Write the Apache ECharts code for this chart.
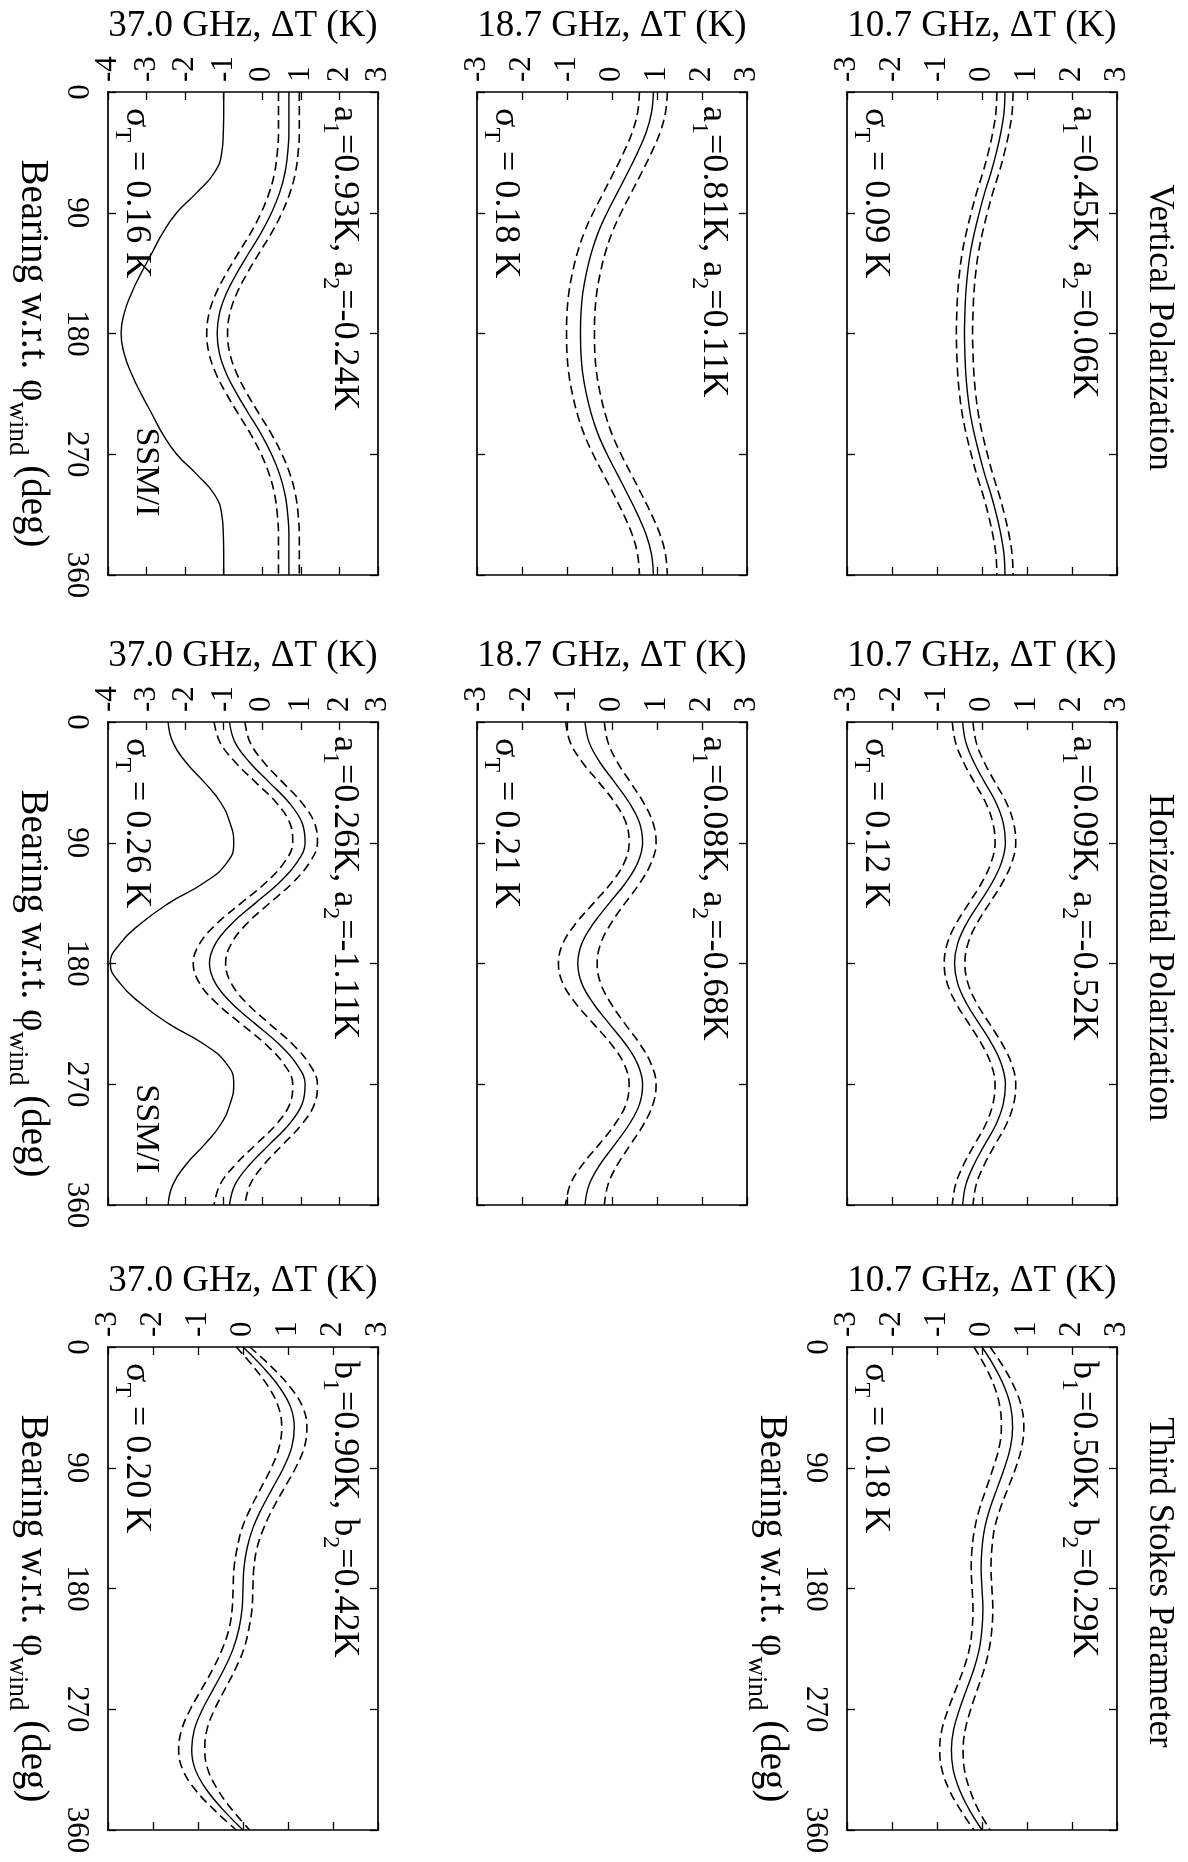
<!DOCTYPE html>
<html>
<head>
<meta charset="utf-8">
<title>Wind direction signal of brightness temperature</title>
<script src="https://cdn.jsdelivr.net/npm/echarts@6.0.0/dist/echarts.min.js"></script>
<style>
html,body{margin:0;padding:0;background:#ffffff;}
#chart{width:1188px;height:1862px;}
</style>
</head>
<body>
<div id="chart"></div>
<script>
// ---------- data ----------
const BEARING = [0,15,30,45,60,75,90,105,120,135,150,165,180,195,210,225,240,255,270,285,300,315,330,345,360];

// Vertical polarization
const V107_MID = [0.51,0.49,0.42,0.32,0.20,0.06,-0.06,-0.17,-0.26,-0.32,-0.36,-0.38,-0.39,-0.38,-0.36,-0.32,-0.26,-0.17,-0.06,0.06,0.20,0.32,0.42,0.49,0.51];
const V107_HI  = [0.69,0.67,0.60,0.50,0.38,0.24,0.12,0.01,-0.08,-0.14,-0.18,-0.20,-0.21,-0.20,-0.18,-0.14,-0.08,0.01,0.12,0.24,0.38,0.50,0.60,0.67,0.69];
const V107_LO  = [0.33,0.31,0.24,0.14,0.02,-0.12,-0.24,-0.35,-0.44,-0.50,-0.54,-0.56,-0.57,-0.56,-0.54,-0.50,-0.44,-0.35,-0.24,-0.12,0.02,0.14,0.24,0.31,0.33];

const V187_MID = [0.92,0.88,0.76,0.57,0.35,0.12,-0.11,-0.31,-0.46,-0.57,-0.65,-0.69,-0.70,-0.69,-0.65,-0.57,-0.46,-0.31,-0.11,0.12,0.35,0.57,0.76,0.88,0.92];
const V187_HI  = [1.23,1.19,1.07,0.88,0.66,0.43,0.20,0.00,-0.15,-0.26,-0.34,-0.38,-0.39,-0.38,-0.34,-0.26,-0.15,0.00,0.20,0.43,0.66,0.88,1.07,1.19,1.23];
const V187_LO  = [0.61,0.57,0.45,0.26,0.04,-0.19,-0.42,-0.62,-0.77,-0.88,-0.96,-1.00,-1.01,-1.00,-0.96,-0.88,-0.77,-0.62,-0.42,-0.19,0.04,0.26,0.45,0.57,0.61];

const V370_MID = [0.69,0.69,0.69,0.66,0.59,0.45,0.24,-0.03,-0.35,-0.66,-0.93,-1.11,-1.17,-1.11,-0.93,-0.66,-0.35,-0.03,0.24,0.45,0.59,0.66,0.69,0.69,0.69];
const V370_HI  = [0.96,0.96,0.96,0.93,0.86,0.72,0.51,0.24,-0.08,-0.39,-0.66,-0.84,-0.90,-0.84,-0.66,-0.39,-0.08,0.24,0.51,0.72,0.86,0.93,0.96,0.96,0.96];
const V370_LO  = [0.42,0.42,0.42,0.39,0.32,0.18,-0.03,-0.30,-0.62,-0.93,-1.20,-1.38,-1.44,-1.38,-1.20,-0.93,-0.62,-0.30,-0.03,0.18,0.32,0.39,0.42,0.42,0.42];
const V370_SSMI = [-1.00,-1.00,-1.01,-1.05,-1.24,-1.70,-2.22,-2.58,-2.86,-3.14,-3.39,-3.58,-3.66,-3.58,-3.39,-3.14,-2.86,-2.58,-2.22,-1.70,-1.24,-1.05,-1.01,-1.00,-1.00];

// Horizontal polarization
const H107_MID = [-0.43,-0.36,-0.18,0.06,0.31,0.47,0.52,0.43,0.22,-0.06,-0.34,-0.54,-0.61,-0.54,-0.34,-0.06,0.22,0.43,0.52,0.47,0.31,0.06,-0.18,-0.36,-0.43];
const H107_HI  = [-0.20,-0.13,0.05,0.29,0.54,0.70,0.75,0.66,0.45,0.17,-0.11,-0.31,-0.38,-0.31,-0.11,0.17,0.45,0.66,0.75,0.70,0.54,0.29,0.05,-0.13,-0.20];
const H107_LO  = [-0.66,-0.59,-0.41,-0.17,0.08,0.24,0.29,0.20,-0.01,-0.29,-0.57,-0.77,-0.84,-0.77,-0.57,-0.29,-0.01,0.20,0.29,0.24,0.08,-0.17,-0.41,-0.59,-0.66];

const H187_MID = [-0.60,-0.51,-0.27,0.06,0.38,0.61,0.68,0.57,0.30,-0.06,-0.41,-0.67,-0.76,-0.67,-0.41,-0.06,0.30,0.57,0.68,0.61,0.38,0.06,-0.27,-0.51,-0.60];
const H187_HI  = [-0.17,-0.09,0.12,0.41,0.70,0.91,0.98,0.87,0.62,0.29,-0.02,-0.25,-0.33,-0.25,-0.02,0.29,0.62,0.87,0.98,0.91,0.70,0.41,0.12,-0.09,-0.17];
const H187_LO  = [-1.03,-0.93,-0.66,-0.29,0.06,0.31,0.38,0.27,-0.02,-0.41,-0.80,-1.09,-1.19,-1.09,-0.80,-0.41,-0.02,0.27,0.38,0.31,0.06,-0.29,-0.66,-0.93,-1.03];

const H370_MID = [-0.85,-0.71,-0.33,0.18,0.69,1.03,1.11,0.89,0.43,-0.18,-0.78,-1.21,-1.37,-1.21,-0.78,-0.18,0.43,0.89,1.11,1.03,0.69,0.18,-0.33,-0.71,-0.85];
const H370_HI  = [-0.45,-0.32,0.04,0.53,1.02,1.35,1.43,1.22,0.78,0.19,-0.39,-0.80,-0.95,-0.80,-0.39,0.19,0.78,1.22,1.43,1.35,1.02,0.53,0.04,-0.32,-0.45];
const H370_LO  = [-1.25,-1.10,-0.70,-0.17,0.36,0.71,0.79,0.56,0.08,-0.55,-1.17,-1.62,-1.79,-1.62,-1.17,-0.55,0.08,0.56,0.79,0.71,0.36,-0.17,-0.70,-1.10,-1.25];
const H370_SSMI = [-2.44,-2.32,-1.98,-1.50,-1.08,-0.84,-0.74,-0.92,-1.52,-2.42,-3.14,-3.68,-3.94,-3.68,-3.14,-2.42,-1.52,-0.92,-0.74,-0.84,-1.08,-1.50,-1.98,-2.32,-2.44];

// Third Stokes parameter
const S107_MID = [0.00,0.28,0.50,0.64,0.68,0.63,0.50,0.34,0.18,0.06,0.00,-0.02,0.00,0.02,0.00,-0.06,-0.18,-0.34,-0.50,-0.63,-0.68,-0.64,-0.50,-0.28,0.00];
const S107_HI  = [0.18,0.48,0.72,0.88,0.93,0.88,0.75,0.58,0.41,0.28,0.22,0.20,0.22,0.24,0.22,0.16,0.05,-0.10,-0.25,-0.37,-0.42,-0.39,-0.27,-0.08,0.18];
const S107_LO  = [-0.18,0.08,0.28,0.40,0.43,0.38,0.25,0.10,-0.05,-0.16,-0.22,-0.24,-0.22,-0.20,-0.22,-0.28,-0.41,-0.58,-0.75,-0.89,-0.94,-0.89,-0.73,-0.48,-0.18];

const S370_MID = [0.00,0.44,0.81,1.06,1.14,1.08,0.90,0.66,0.42,0.22,0.09,0.02,0.00,-0.02,-0.09,-0.22,-0.42,-0.66,-0.90,-1.08,-1.14,-1.06,-0.81,-0.44,0.00];
const S370_HI  = [0.15,0.64,1.05,1.33,1.42,1.36,1.17,0.92,0.67,0.46,0.31,0.24,0.22,0.20,0.13,0.02,-0.17,-0.40,-0.63,-0.80,-0.85,-0.78,-0.56,-0.24,0.15];
const S370_LO  = [-0.15,0.24,0.57,0.79,0.86,0.80,0.63,0.40,0.17,-0.02,-0.13,-0.20,-0.22,-0.24,-0.31,-0.46,-0.67,-0.92,-1.17,-1.36,-1.43,-1.34,-1.06,-0.64,-0.15];

// texts
const ROW_TITLES = ['Vertical Polarization', 'Horizontal Polarization', 'Third Stokes Parameter'];
const FREQ_NAMES = {'10.7': '10.7 GHz, \u0394T (K)', '18.7': '18.7 GHz, \u0394T (K)', '37.0': '37.0 GHz, \u0394T (K)'};
const COEF_TEXTS = [
  ['a', '=0.45K, ', '=0.06K'], ['a', '=0.81K, ', '=0.11K'], ['a', '=0.93K, ', '=-0.24K'],
  ['a', '=0.09K, ', '=-0.52K'], ['a', '=0.08K, ', '=-0.68K'], ['a', '=0.26K, ', '=-1.11K'],
  ['b', '=0.50K, ', '=0.29K'], ['b', '=0.90K, ', '=0.42K']
];
const SIGMA_TEXTS = ['0.09 K', '0.18 K', '0.16 K', '0.12 K', '0.21 K', '0.26 K', '0.18 K', '0.20 K'];
const SSMI_LABEL = 'SSM/I';

// ---------- layout ----------
const COL_LEFT = {'10.7': 847, '18.7': 477, '37.0': 108};
const ROW_TOP = [92, 722, 1347];
const BOX_W = 270, BOX_H = 483;
const FONT = '"Liberation Serif", "Times New Roman", Times, serif';

const PANELS = [
  {row: 0, freq: '10.7', dtMin: -3, lines: [V107_HI, V107_MID, V107_LO], ssmi: null, bearingAxis: false},
  {row: 0, freq: '18.7', dtMin: -3, lines: [V187_HI, V187_MID, V187_LO], ssmi: null, bearingAxis: false},
  {row: 0, freq: '37.0', dtMin: -4, lines: [V370_HI, V370_MID, V370_LO], ssmi: V370_SSMI, ssmiAt: 250, bearingAxis: true},
  {row: 1, freq: '10.7', dtMin: -3, lines: [H107_HI, H107_MID, H107_LO], ssmi: null, bearingAxis: false},
  {row: 1, freq: '18.7', dtMin: -3, lines: [H187_HI, H187_MID, H187_LO], ssmi: null, bearingAxis: false},
  {row: 1, freq: '37.0', dtMin: -4, lines: [H370_HI, H370_MID, H370_LO], ssmi: H370_SSMI, ssmiAt: 270, bearingAxis: true},
  {row: 2, freq: '10.7', dtMin: -3, lines: [S107_HI, S107_MID, S107_LO], ssmi: null, bearingAxis: true},
  {row: 2, freq: '37.0', dtMin: -3, lines: [S370_HI, S370_MID, S370_LO], ssmi: null, bearingAxis: true}
];

const chart = echarts.init(document.getElementById('chart'), null, {renderer: 'canvas', width: 1188, height: 1862});

const grid = [], xAxis = [], yAxis = [], series = [], graphic = [];
const BLACK = '#000000';

function baseAxis(gi) {
  return {
    type: 'value', gridIndex: gi,
    splitLine: {show: false},
    axisLine: {show: true, onZero: false, lineStyle: {color: BLACK, width: 1.7}},
    axisTick: {show: true, inside: true, length: 8, lineStyle: {color: BLACK, width: 1.3}}
  };
}

const mainRich = (size) => ({
  m: {fontFamily: FONT, fontSize: size, fill: BLACK},
  s: {fontFamily: FONT, fontSize: Math.round(size * 0.68), fill: BLACK, padding: [Math.round(size * 0.78), 0, 0, 0]}
});

PANELS.forEach((p, i) => {
  const left = COL_LEFT[p.freq], top = ROW_TOP[p.row];
  grid.push({left: left, top: top, width: BOX_W, height: BOX_H, containLabel: false, outerBoundsMode: 'none'});

  xAxis.push(Object.assign(baseAxis(i), {
    position: 'top', min: p.dtMin, max: 3, interval: 1,
    name: FREQ_NAMES[p.freq], nameLocation: 'middle', nameGap: 47, nameMoveOverlap: false,
    nameTextStyle: {fontFamily: FONT, fontSize: 37, color: BLACK},
    axisLabel: {show: true, rotate: -90, margin: 10, fontFamily: FONT, fontSize: 31, color: BLACK,
      showMinLabel: true, showMaxLabel: true}
  }));
  xAxis.push(Object.assign(baseAxis(i), {
    position: 'bottom', min: p.dtMin, max: 3, interval: 1, axisLabel: {show: false}
  }));
  yAxis.push(Object.assign(baseAxis(i), {
    position: 'left', inverse: true, min: 0, max: 360, interval: 90,
    axisLabel: {show: p.bearingAxis, rotate: -90, margin: 16, fontFamily: FONT, fontSize: 31, color: BLACK,
      showMinLabel: true, showMaxLabel: true}
  }));
  yAxis.push(Object.assign(baseAxis(i), {
    position: 'right', inverse: true, min: 0, max: 360, interval: 90, axisLabel: {show: false}
  }));

  const xi = 2 * i, yi = 2 * i;
  const styles = [
    {color: BLACK, width: 1.6, type: [9, 5]},
    {color: BLACK, width: 1.4, type: 'solid'},
    {color: BLACK, width: 1.6, type: [9, 5]}
  ];
  p.lines.forEach((vals, k) => {
    series.push({
      type: 'line', xAxisIndex: xi, yAxisIndex: yi, showSymbol: false, symbol: 'none', smooth: 0.4,
      lineStyle: styles[k], silent: true, animation: false,
      data: BEARING.map((b, j) => [vals[j], b])
    });
  });
  if (p.ssmi) {
    series.push({
      type: 'line', xAxisIndex: xi, yAxisIndex: yi, showSymbol: false, symbol: 'none', smooth: 0.5,
      lineStyle: {color: BLACK, width: 1.4}, silent: true, animation: false,
      data: BEARING.map((b, j) => [p.ssmi[j], b])
    });
    graphic.push({
      type: 'text', x: left + 38, y: top + BOX_H * p.ssmiAt / 360, rotation: -Math.PI / 2,
      style: {text: SSMI_LABEL, fontFamily: FONT, fontSize: 34, fill: BLACK, align: 'left', verticalAlign: 'middle'}
    });
  }

  const c = COEF_TEXTS[i];
  graphic.push({
    type: 'text', x: left + BOX_W - 34, y: top + 14, rotation: -Math.PI / 2,
    style: {
      text: '{m|' + c[0] + '}{s|1}{m|' + c[1] + c[0] + '}{s|2}{m|' + c[2] + '}',
      rich: mainRich(36), align: 'left', verticalAlign: 'middle'
    }
  });
  graphic.push({
    type: 'text', x: left + 28, y: top + 16, rotation: -Math.PI / 2,
    style: {
      text: '{m|\u03c3}{s|T}{m| = ' + SIGMA_TEXTS[i] + '}',
      rich: mainRich(36), align: 'left', verticalAlign: 'middle'
    }
  });

  if (p.bearingAxis) {
    graphic.push({
      type: 'text', x: left - 76, y: top + BOX_H / 2 + 20, rotation: -Math.PI / 2,
      style: {
        text: '{m|Bearing w.r.t. \u03c6}{s|wind}{m| (deg)}',
        rich: mainRich(39), align: 'center', verticalAlign: 'middle'
      }
    });
  }
});

ROW_TITLES.forEach((t, r) => {
  graphic.push({
    type: 'text', x: COL_LEFT['10.7'] + BOX_W + 42, y: ROW_TOP[r] + BOX_H / 2 - 6, rotation: -Math.PI / 2,
    style: {text: t, fontFamily: FONT, fontSize: 35, fill: BLACK, align: 'center', verticalAlign: 'middle'}
  });
});

chart.setOption({
  backgroundColor: '#ffffff',
  animation: false,
  grid: grid,
  xAxis: xAxis,
  yAxis: yAxis,
  series: series,
  graphic: graphic
});
</script>
</body>
</html>
